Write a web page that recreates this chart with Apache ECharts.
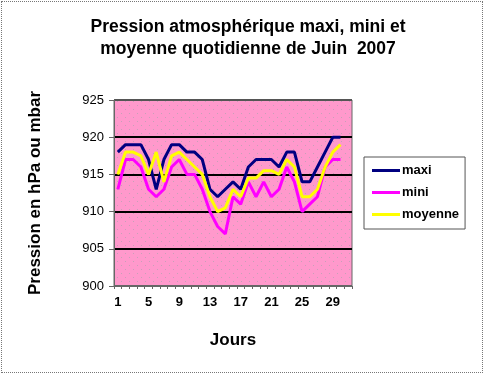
<!DOCTYPE html>
<html><head><meta charset="utf-8">
<script src="https://cdn.jsdelivr.net/npm/echarts@6/dist/echarts.min.js"></script>
<style>html,body{margin:0;padding:0;background:#fff}#c{width:484px;height:374px;position:relative}
#c:after{content:"";position:absolute;left:1px;top:1px;right:1px;bottom:1px;border:1px dotted #777;pointer-events:none}</style>
</head><body><div id="c"></div>
<script>
const days = ['1','2','3','4','5','6','7','8','9','10','11','12','13','14','15','16','17','18','19','20','21','22','23','24','25','26','27','28','29','30','31'];
const maxi = [918,919,919,919,917,913,917,919,919,918,918,917,913,912,913,914,913,916,917,917,917,916,918,918,914,914,916,918,920,920,null];
const mini = [913,917,917,916,913,912,913,916,917,915,915,913,910,908,907,912,911,914,912,914,912,913,916,914,910,911,912,916,917,917,null];
const moyenne = [915,918,918,917.5,915,918,914,917.5,918,917,916,915,912,910,910.5,913,912,914.5,914.5,915.5,915.5,915,917,916,912,912,913,916,918,919,null];
const yTicks = [900,905,910,915,920,925];

const pc = document.createElement('canvas');
pc.width = 8; pc.height = 8;
const px = pc.getContext('2d');
px.fillStyle = '#FF99CC'; px.fillRect(0,0,8,8);
px.fillStyle = '#c8a0b8'; px.fillRect(1,1,1,1); px.fillRect(5,5,1,1);

const chart = echarts.init(document.getElementById('c'));
const lineStyle = (c)=>({type:'line', symbol:'none', lineStyle:{width:3,color:c}, itemStyle:{color:c}, connectNulls:false});
chart.setOption({
  animation:false,
  backgroundColor:'#fff',
  title:{text:'Pression atmosphérique maxi, mini et\nmoyenne quotidienne de Juin  2007', left:243, top:11, textAlign:'center',
    textStyle:{fontFamily:'Liberation Sans, Arial', fontWeight:'bold', fontSize:17.5, lineHeight:22, color:'#000'}},
  legend:{orient:'vertical', left:364, top:157, width:104, height:73, itemWidth:28, itemHeight:3, itemGap:9,
    padding:[7,6,8,8], borderColor:'#555', borderWidth:1, backgroundColor:'#fff',
    textStyle:{fontFamily:'Liberation Sans, Arial', fontWeight:'bold', fontSize:13, color:'#000', padding:[0,0,0,-3]},
    icon:'rect', data:['maxi','mini','moyenne']},
  grid:{left:114, right:132, top:100, bottom:88, show:true, backgroundColor:{image:pc, repeat:'repeat'}, borderColor:'#666', borderWidth:1},
  xAxis:{type:'category', data:days, boundaryGap:true,
    name:'Jours', nameLocation:'middle', nameGap:46,
    nameTextStyle:{fontFamily:'Liberation Sans, Arial', fontWeight:'bold', fontSize:17, color:'#000'},
    axisLine:{lineStyle:{color:'#666'}},
    axisTick:{show:true, interval:0, length:3, lineStyle:{color:'#666'}},
    axisLabel:{interval:3, margin:10, fontFamily:'Liberation Sans, Arial', fontWeight:'bold', fontSize:13, color:'#000'},
    splitLine:{show:false}},
  yAxis:{type:'value', min:yTicks[0], max:yTicks[yTicks.length-1], interval:5,
    name:'Pression en hPa ou mbar', nameLocation:'middle', nameGap:70,
    nameTextStyle:{fontFamily:'Liberation Sans, Arial', fontWeight:'bold', fontSize:17, color:'#000'},
    axisLine:{show:true, lineStyle:{color:'#666'}},
    axisTick:{show:true, length:5, lineStyle:{color:'#666'}},
    axisLabel:{margin:10, fontFamily:'Liberation Sans, Arial', fontSize:13, color:'#000'},
    splitLine:{show:true, lineStyle:{color:['#666','#000','#000','#000','#000','#555'], width:2}}},
  series:[
    Object.assign({name:'maxi', data:maxi}, lineStyle('#000080')),
    Object.assign({name:'mini', data:mini}, lineStyle('#FF00FF')),
    Object.assign({name:'moyenne', data:moyenne}, lineStyle('#FFFF00'))
  ]
});
</script></body></html>
